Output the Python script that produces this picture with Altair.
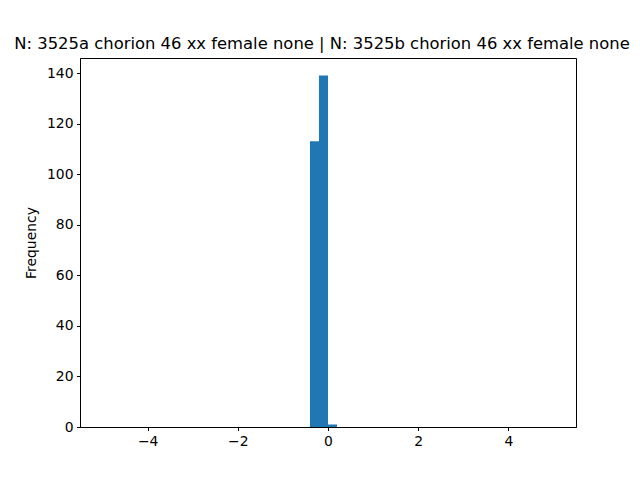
import altair as alt
import pandas as pd

bin_start = [-0.4, -0.2, 0.0]
bin_end = [-0.2, 0.0, 0.2]
counts = [113, 139, 1]

title_text = "N: 3525a chorion 46 xx female none | N: 3525b chorion 46 xx female none"

df = pd.DataFrame({"start": bin_start, "end": bin_end, "count": counts})

chart = alt.Chart(df).mark_rect(color="#1f77b4").encode(
    x=alt.X("start:Q", scale=alt.Scale(domain=[-5.5, 5.5], nice=False, zero=False),
            axis=alt.Axis(values=[-4, -2, 0, 2, 4], title=None, grid=False,
                          labelFontSize=13.9, labelColor="black", tickColor="black",
                          domainColor="black", tickSize=3.5, labelPadding=3.5,
                          labelFont="DejaVu Sans", format="d")),
    x2="end:Q",
    y=alt.Y("count:Q", scale=alt.Scale(domain=[0, 145.95], nice=False),
            axis=alt.Axis(values=[0, 20, 40, 60, 80, 100, 120, 140], title="Frequency",
                          grid=False, labelFontSize=13.9, labelColor="black",
                          tickColor="black", domainColor="black", tickSize=3.5,
                          labelPadding=3.5, labelFont="DejaVu Sans",
                          titleFont="DejaVu Sans", titleFontSize=13.9,
                          titleFontWeight="normal", titleColor="black",
                          titlePadding=8)),
    y2=alt.datum(0),
).properties(
    width=496,
    height=369,
    title=alt.TitleParams(title_text, fontSize=16.4, fontWeight="normal",
                          font="DejaVu Sans", color="black", anchor="middle",
                          offset=6, dx=-6),
    autosize=alt.AutoSizeParams(type="none"),
    padding={"left": 72, "top": 50, "right": 56, "bottom": 45},
).configure_view(stroke="black", strokeWidth=1)

chart.save("out.html", embed_options={"renderer": "svg", "actions": False})
